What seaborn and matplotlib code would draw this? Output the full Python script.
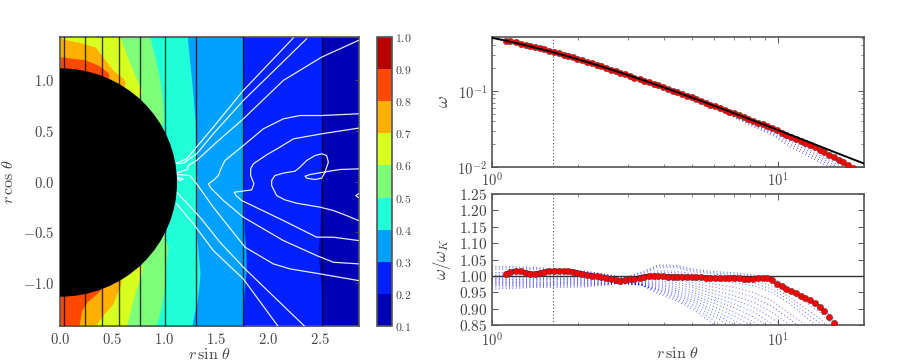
import matplotlib
matplotlib.use('Agg')
import matplotlib.pyplot as plt
import numpy as np
import seaborn as sns
from matplotlib.cm import ScalarMappable
from matplotlib.colors import BoundaryNorm, ListedColormap
from matplotlib.patches import Ellipse

# ── DATA: left panel ─────────────────────────────────────────
LEVELS = [0.1, 0.2, 0.3, 0.4, 0.5, 0.6, 0.7, 0.8, 0.9, 1.0]
BAND_COLORS = ["#0000b4", "#0020ff", "#00a0ff", "#1fffd8", "#7dff7a",
               "#d8ff1f", "#ffb000", "#ff4800", "#b80000"]

# band edges, each as (x, y), painted right to left
EDGE_02_Y = [1.43, 1.0, 0.5, 0.0, -0.5, -0.7, -0.9, -1.1, -1.43]
EDGE_02_X = [2.52, 2.52, 2.52, 2.51, 2.50, 2.48, 2.50, 2.52, 2.52]
EDGE_03_Y = [1.43, 1.0, 0.5, 0.0, -0.5, -0.7, -0.9, -1.1, -1.43]
EDGE_03_X = [1.756, 1.76, 1.763, 1.763, 1.77, 1.79, 1.79, 1.77, 1.756]
EDGE_04_Y = [1.43, 1.2, 1.0, 0.6, 0.0, -0.55, -0.9, -1.0, -1.2, -1.43]
EDGE_04_X = [1.224, 1.245, 1.266, 1.30, 1.315, 1.315, 1.346, 1.34, 1.315, 1.266]
EDGE_05_Y = [1.43, 1.2, 1.0, 0.8, 0.6, 0.0, -0.52, -0.65, -0.8, -1.1, -1.3, -1.43]
EDGE_05_X = [0.865, 0.92, 0.96, 0.985, 0.995, 0.8, 1.0, 1.04, 1.02, 1.0, 0.96, 0.93]
EDGE_06_Y = [1.43, 1.2, 1.0, 0.9, 0.7, 0.0, -0.7, -0.85, -1.18, -1.43]
EDGE_06_X = [0.577, 0.66, 0.74, 0.79, 0.7, 0.5, 0.7, 0.80, 0.70, 0.64]
EDGE_07_Y = [1.43, 1.41, 1.37, 1.33, 1.25, 1.10, 1.02, 0.98, 0.5, -0.5, -1.0, -1.21, -1.34, -1.43]
EDGE_07_X = [0.02, 0.03, 0.21, 0.34, 0.40, 0.51, 0.61, 0.63, 0.5, 0.5, 0.59, 0.51, 0.40, 0.34]
EDGE_08_Y = [1.235, 1.205, 1.15, 1.08, 1.06, 0.5, -0.5, -1.08, -1.195, -1.277, -1.43]
EDGE_08_X = [0.0, 0.24, 0.37, 0.46, 0.47, 0.4, 0.4, 0.385, 0.257, 0.208, 0.183]

FLUX_X = [0.042, 0.243, 0.407, 0.57, 0.77, 1.006, 1.31, 1.763, 2.52]

FIELD_A = ([2.244, 1.763, 1.474, 1.298, 1.218, 1.122], [1.422, 0.901, 0.538, 0.323, 0.224, 0.182])
FIELD_B = ([2.372, 1.763, 1.474, 1.314, 1.186, 1.122], [1.413, 0.802, 0.472, 0.274, 0.182, 0.175])
FIELD_C = ([2.869, 2.516, 2.147, 1.763, 1.506, 1.314, 1.234, 1.224, 1.122],
           [1.396, 1.231, 1.0, 0.62, 0.389, 0.208, 0.158, 0.119, 0.083])
FIELD_D = ([2.869, 2.516, 2.308, 2.147, 1.955, 1.763, 1.587, 1.554, 1.522, 1.474, 1.426, 1.449, 1.571, 1.763, 2.147, 2.468, 2.628, 2.869],
           [0.670, 0.653, 0.653, 0.620, 0.521, 0.356, 0.208, 0.142, 0.059, 0.010, -0.023, -0.063, -0.188, -0.353, -0.584, -0.733, -0.799, -0.815])
FIELD_E = ([1.122, 1.25, 1.314, 1.474, 1.779, 2.051, 2.212, 2.5, 2.869],
           [0.069, 0.059, -0.023, -0.254, -0.650, -0.815, -0.865, -0.914, -0.980])
FIELD_F = ([1.122, 1.282, 1.474, 1.763, 2.099], [-0.221, -0.419, -0.683, -0.964, -1.436])
FIELD_G = ([1.122, 1.346, 1.538, 1.779, 2.356], [-0.106, -0.353, -0.601, -0.865, -1.436])
FIELD_H = ([2.869, 2.692, 2.532, 2.404, 2.356, 2.372, 2.452, 2.516, 2.548, 2.580, 2.564, 2.516, 2.452, 2.372, 2.308, 2.260, 2.147, 2.067, 2.035, 2.035, 2.083, 2.163, 2.276, 2.5, 2.628, 2.756, 2.869],
           [0.125, 0.119, 0.092, 0.069, 0.053, 0.033, 0.020, 0.033, 0.092, 0.191, 0.257, 0.274, 0.257, 0.208, 0.142, 0.102, 0.083, 0.059, 0.010, -0.040, -0.139, -0.182, -0.215, -0.254, -0.287, -0.337, -0.386])
FIELD_I = ([2.869, 2.516, 2.244, 2.115, 1.987, 1.859, 1.833, 1.833, 1.865, 1.843, 1.747, 1.676, 1.692, 1.747, 2.147, 2.468, 2.628, 2.869],
           [0.528, 0.472, 0.422, 0.340, 0.264, 0.175, 0.125, 0.059, -0.023, -0.083, -0.096, -0.106, -0.139, -0.188, -0.386, -0.551, -0.551, -0.584])
FIELD_J = ([2.87, 2.845, 2.87], [-0.12, -0.14, -0.16])
FIELD_K = ([1.122, 1.186, 1.154, 1.122], [0.043, 0.026, 0.010, 0.036])
FIELDS = [FIELD_A, FIELD_B, FIELD_C, FIELD_D, FIELD_E, FIELD_F, FIELD_G, FIELD_H, FIELD_I, FIELD_J, FIELD_K]

# ── DATA: right panels ───────────────────────────────────────
RED_R = [1.12, 1.16, 1.21, 1.26, 1.31, 1.36, 1.41, 1.47, 1.52, 1.58, 1.65, 1.71, 1.78, 1.85, 1.92,
         1.99, 2.07, 2.15, 2.24, 2.32, 2.41, 2.51, 2.61, 2.71, 2.81, 2.92, 3.04, 3.15, 3.28, 3.41,
         3.54, 3.68, 3.82, 3.97, 4.12, 4.28, 4.45, 4.62, 4.80, 4.99, 5.18, 5.38, 5.59, 5.81, 6.04,
         6.27, 6.52, 6.77, 7.03, 7.31, 7.59, 7.89, 8.20, 8.52, 8.85, 9.19, 9.55, 9.92, 10.31, 10.71,
         11.13, 11.56, 12.01, 12.48, 12.97, 13.47, 14.0, 14.54, 15.11, 15.70, 16.31, 16.94, 17.6, 18.3]
RED_OMEGA = [.461, .450, .435, .420, .404, .389, .376, .363, .352, .340, .325, .314, .301, .288, .277,
             .265, .253, .2415, .230, .220, .210, .1997, .1898, .1805, .1725, .1648, .157, .1504, .1432, .1367,
             .1305, .1241, .1181, .1121, .1066, .1013, .0961, .0912, .0865, .0821, .0779, .0739, .0700, .0663, .0627,
             .0594, .0562, .0533, .0506, .0479, .0452, .0428, .0405, .0384, .0363, .0344, .0324, .0303, .0284, .0266,
             .0250, .0235, .0220, .0207, .0194, .0181, .0169, .0158, .0146, .0135, .0125, .0115, .0106, .0096]
RED_RATIO = [1.007, 1.011, 1.015, 1.014, 1.010, 1.007, 1.006, 1.009, 1.012, 1.014, 1.015, 1.015, 1.015, 1.014, 1.013,
             1.010, 1.006, 1.003, 1.001, .999, .997, .994, .990, .986, .985, .987, .989, .991, .994, .998,
             1.000, 1.000, 1.000, .999, .998, .998, .998, .997, .997, .997, .996, .996, .995, .994, .993,
             .992, .992, .993, .995, .993, .991, .991, .991, .992, .992, .992, .988, .976, .968, .960,
             .954, .947, .938, .933, .925, .916, .904, .892, .875, .855, .835, .815, .79, .765]

KEPLER_R = [1.0, 1.12, 1.31, 1.58, 1.92, 2.32, 2.81, 3.41, 4.12, 4.99, 6.04, 7.31, 8.85, 10.71, 12.97, 15.70, 20.0]
KEPLER_OMEGA = [.5, .4576, .400, .335, .273, .2206, .1751, .137, .1068, .0823, .0631, .0482, .0366, .0277, .021, .0158, .0111]
UNIT_R = [1.0, 20.0]
UNIT_RATIO = [1.0, 1.0]
MARK_R = 1.64
XLIM = [1, 20]

# blue dots, ratio panel: one row per curve
BLUE_R = [1.0, 1.2, 1.45, 1.75, 2.1, 2.5, 2.9, 3.3, 3.8, 4.4, 5.1, 6.0, 7.0, 8.2, 9.5, 11, 12.5, 14, 16, 18]
BLUE_01 = [1.03, 1.028, 1.025, 1.02, 1.015, 1.005, .995, 1.01, 1.033, 1.032, 1.02, 1.013, 1.01, 1.003, .995, .965, .935, .91, .86, .80]
BLUE_02 = [1.02, 1.02, 1.018, 1.016, 1.012, 1.003, .993, 1.003, 1.025, 1.025, 1.012, 1.005, 1.0, .995, .985, .95, .92, .89, .84, .78]
BLUE_03 = [1.01, 1.01, 1.012, 1.012, 1.008, 1.0, .99, .998, 1.015, 1.015, 1.005, .995, .99, .985, .97, .935, .90, .87, .82, .76]
BLUE_04 = [1.0, 1.003, 1.005, 1.006, 1.003, .998, .988, .993, 1.005, 1.005, .995, .985, .98, .97, .95, .915, .875, .84, .80, .74]
BLUE_05 = [.995, .998, 1.0, 1.0, .998, .995, .985, .988, .995, .993, .985, .975, .965, .95, .925, .885, .85, .81, .77, .72]
BLUE_06 = [.99, .99, .992, .993, .992, .99, .983, .982, .985, .98, .97, .955, .94, .92, .89, .85, .81, .78, .74, .70]
BLUE_07 = [.985, .985, .987, .988, .987, .985, .98, .978, .975, .967, .955, .935, .915, .89, .855, .81, .78, .75, .71, .68]
BLUE_08 = [.98, .98, .98, .982, .982, .982, .977, .975, .968, .955, .94, .915, .89, .86, .82, .78, .75, .72, .69, .66]
BLUE_09 = [.975, .975, .975, .977, .977, .978, .975, .972, .96, .945, .925, .895, .865, .83, .79, .75, .72, .70, .67, .64]
BLUE_10 = [.97, .97, .97, .972, .972, .975, .978, .973, .955, .935, .91, .875, .84, .80, .76, .72, .70, .68, .65, .62]
BLUE_11 = [.96, .962, .965, .965, .966, .972, .98, .975, .945, .925, .895, .85, .80, .76, .72, .69, .67, .65, .62, .60]
BLUE_12 = [1.025, 1.024, 1.022, 1.018, 1.014, 1.004, .994, 1.006, 1.03, 1.029, 1.016, 1.009, 1.005, .999, .99, .958, .928, .90, .85, .79]
BLUE_13 = [1.005, 1.006, 1.008, 1.009, 1.006, 1.0, .989, .995, 1.01, 1.01, 1.0, .99, .985, .978, .96, .925, .888, .855, .81, .75]
BLUE_14 = [.992, .994, .996, .997, .995, .992, .984, .985, .99, .987, .978, .965, .953, .935, .908, .868, .83, .795, .755, .71]
BLUE_15 = [.988, .988, .99, .99, .99, .988, .982, .98, .98, .974, .963, .945, .928, .905, .872, .83, .795, .765, .725, .69]
BLUE_16 = [.982, .982, .984, .985, .985, .984, .979, .977, .972, .961, .948, .925, .903, .875, .838, .795, .765, .735, .70, .67]
BLUE_17 = [.978, .978, .978, .98, .98, .98, .976, .974, .964, .95, .933, .905, .878, .845, .805, .765, .735, .71, .68, .65]
BLUE_18 = [.972, .972, .973, .975, .975, .977, .976, .973, .958, .94, .918, .885, .852, .815, .775, .735, .71, .69, .66, .63]
BLUE_19 = [.965, .966, .968, .969, .97, .974, .979, .974, .95, .93, .902, .862, .82, .78, .74, .705, .685, .665, .635, .61]
BLUE_RATIOS = [BLUE_01, BLUE_02, BLUE_03, BLUE_04, BLUE_05, BLUE_06, BLUE_07, BLUE_08, BLUE_09, BLUE_10,
               BLUE_11, BLUE_12, BLUE_13, BLUE_14, BLUE_15, BLUE_16, BLUE_17, BLUE_18, BLUE_19]

# blue dots, omega panel
TOP_R = [6, 7, 8.2, 9.5, 11, 12.5, 14, 16, 18, 20]
TOP_01 = [.0620, .0500, .0395, .0315, .0245, .0195, .0155, .0120, .0095, .0075]
TOP_02 = [.0612, .0488, .0380, .0300, .0230, .0180, .0143, .0110, .0087, .0068]
TOP_03 = [.0605, .0477, .0367, .0288, .0217, .0168, .0133, .0102, .0080, .0062]
TOP_04 = [.0600, .0466, .0353, .0277, .0200, .0155, .0124, .0096, .0075, .0058]
TOP_05 = [.0597, .0455, .0340, .0266, .0185, .0145, .0115, .0090, .0070, .0055]
TOPS = [TOP_01, TOP_02, TOP_03, TOP_04, TOP_05]
START_R = [1.0, 1.06, 1.12]
START_OMEGA = [.505, .49, .465]

LEFT_XTICKS = [0.0, 0.5, 1.0, 1.5, 2.0, 2.5]
LEFT_YTICKS = [-1.0, -0.5, 0.0, 0.5, 1.0]
RATIO_TICKS = [0.85, 0.90, 0.95, 1.00, 1.05, 1.10, 1.15, 1.20, 1.25]

# ── STYLE ────────────────────────────────────────────────────
TXT = "#444444"
EDGE = "#555555"
sns.set_style("ticks")
plt.rcParams.update({
    'font.family': ['DejaVu Serif'],
    'mathtext.fontset': 'cm',
    'xtick.direction': 'in', 'ytick.direction': 'in',
    'xtick.top': True, 'ytick.right': True,
    'xtick.color': EDGE, 'ytick.color': EDGE,
    'xtick.labelcolor': TXT, 'ytick.labelcolor': TXT,
    'axes.edgecolor': EDGE, 'axes.labelcolor': TXT,
    'axes.linewidth': 1.2,
})

W, H = 913, 362
fig = plt.figure(figsize=(W / 100, H / 100), dpi=100, facecolor='white')
def px_axes(x0, x1, y0, y1):
    return fig.add_axes([x0 / W, (H - y1) / H, (x1 - x0) / W, (y1 - y0) / H])

ax = px_axes(60, 359, 37, 326)
cax = px_axes(377, 392, 37, 326)
ax1 = px_axes(492, 864, 37, 167)
ax2 = px_axes(492, 864, 194, 325)

# ── LEFT PANEL ───────────────────────────────────────────────
ax.set_facecolor(BAND_COLORS[0])
edges = [(EDGE_02_X, EDGE_02_Y), (EDGE_03_X, EDGE_03_Y), (EDGE_04_X, EDGE_04_Y), (EDGE_05_X, EDGE_05_Y),
         (EDGE_06_X, EDGE_06_Y), (EDGE_07_X, EDGE_07_Y), (EDGE_08_X, EDGE_08_Y)]
for i, (ex, ey) in enumerate(edges):
    ax.fill_betweenx(ey, 0, ex, color=BAND_COLORS[i + 1], linewidth=0, zorder=1 + i * 0.1)
for fx in FLUX_X:
    ax.axvline(fx, color='black', lw=1.0, alpha=0.75, zorder=3)
for lx, ly in FIELDS:
    sns.lineplot(x=lx, y=ly, sort=False, estimator=None, color='white', lw=0.9, alpha=0.9, ax=ax, zorder=4)
ax.add_patch(Ellipse((0, -0.01), 2 * 1.125, 2 * 1.13, color='black', lw=0, zorder=5))
ax.set_xlim(0, 2.875)
ax.set_ylim(-1.43, 1.43)
ax.set_xticks(LEFT_XTICKS)
ax.set_xticklabels([f"${v:.1f}$" for v in LEFT_XTICKS], fontsize=10.5)
ax.set_yticks(LEFT_YTICKS)
ax.set_yticklabels([f"${v:.1f}$" for v in LEFT_YTICKS], fontsize=10.5)
ax.tick_params(length=3, width=0.6, zorder=6, pad=4)
ax.set_xlabel(r"$r\,\sin\,\theta$", fontsize=11.5)
ax.set_ylabel(r"$r\,\cos\,\theta$", fontsize=11.5)
ax.xaxis.set_label_coords(0.5, -0.069)
ax.yaxis.set_label_coords(-0.144, 0.5)

# ── COLORBAR ─────────────────────────────────────────────────
cmap = ListedColormap(BAND_COLORS)
norm = BoundaryNorm(LEVELS, cmap.N)
cb = fig.colorbar(ScalarMappable(norm=norm, cmap=cmap), cax=cax, ticks=LEVELS, spacing='proportional')
cb.ax.set_yticklabels([f"${v:.1f}$" for v in LEVELS], fontsize=8.5)
cb.ax.tick_params(length=0, pad=2, left=False, right=False)
cb.outline.set_edgecolor(EDGE)

# ── OMEGA PANEL ──────────────────────────────────────────────
ax1.set_xscale('log')
ax1.set_yscale('log')
for row in TOPS:
    ax1.plot(TOP_R, row, color='#0000ff', lw=0.7, ls=(0, (1, 2.5)), alpha=0.7, zorder=2)
ax1.plot(START_R, START_OMEGA, color='#0000ff', lw=0.8, ls=(0, (1, 2)), zorder=2)
sns.scatterplot(x=RED_R, y=RED_OMEGA, s=21, color='#ff0000', edgecolor='#333333', linewidth=0.3, ax=ax1, zorder=3)
sns.lineplot(x=KEPLER_R, y=KEPLER_OMEGA, color='black', lw=1.4, ax=ax1, zorder=4)
ax1.axvline(MARK_R, color='#555555', lw=0.8, ls=(0, (1, 2)), zorder=1)
ax1.set_xlim(XLIM)
ax1.set_ylim(0.01, 0.513)
ax1.set_xticks([1, 10])
ax1.set_xticklabels(["$10^{0}$", "$10^{1}$"], fontsize=10.5)
ax1.set_yticks([0.01, 0.1])
ax1.set_yticklabels(["$10^{-2}$", "$10^{-1}$"], fontsize=10.5)
ax1.set_ylabel(r"$\omega$", fontsize=13)
ax1.yaxis.set_label_coords(-0.108, 0.5)
ax1.tick_params(axis='x', pad=3)

# ── RATIO PANEL ──────────────────────────────────────────────
ax2.set_xscale('log')
for row in BLUE_RATIOS:
    ax2.plot(BLUE_R, row, color='#0000ff', lw=0.7, ls=(0, (1, 2.5)), alpha=0.6, zorder=2)
sns.lineplot(x=UNIT_R, y=UNIT_RATIO, color='#333333', lw=1.0, ax=ax2, zorder=3)
sns.lineplot(x=RED_R[:57], y=RED_RATIO[:57], color='black', lw=3.0, ax=ax2, zorder=3)
sns.scatterplot(x=RED_R, y=RED_RATIO, s=21, color='#ff0000', edgecolor='#333333', linewidth=0.3, ax=ax2, zorder=4)
ax2.axvline(MARK_R, color='#555555', lw=0.8, ls=(0, (1, 2)), zorder=1)
ax2.set_xlim(XLIM)
ax2.set_ylim(0.85, 1.25)
ax2.set_xticks([1, 10])
ax2.set_xticklabels(["$10^{0}$", "$10^{1}$"], fontsize=10.5)
ax2.set_yticks(RATIO_TICKS)
ax2.set_yticklabels([f"${v:.2f}$" for v in RATIO_TICKS], fontsize=11)
ax2.set_xlabel(r"$r\,\sin\,\theta$", fontsize=11.5)
ax2.set_ylabel(r"$\omega/\omega_K$", fontsize=12)
ax2.xaxis.set_label_coords(0.5, -0.153)
ax2.yaxis.set_label_coords(-0.105, 0.5)

for a in (ax1, ax2):
    a.tick_params(which='major', length=4, width=0.7)
    a.tick_params(which='minor', length=2, width=0.5)
ax2.tick_params(axis='x', which='major', pad=4)

fig.savefig("out.png", dpi=100, facecolor='white')
